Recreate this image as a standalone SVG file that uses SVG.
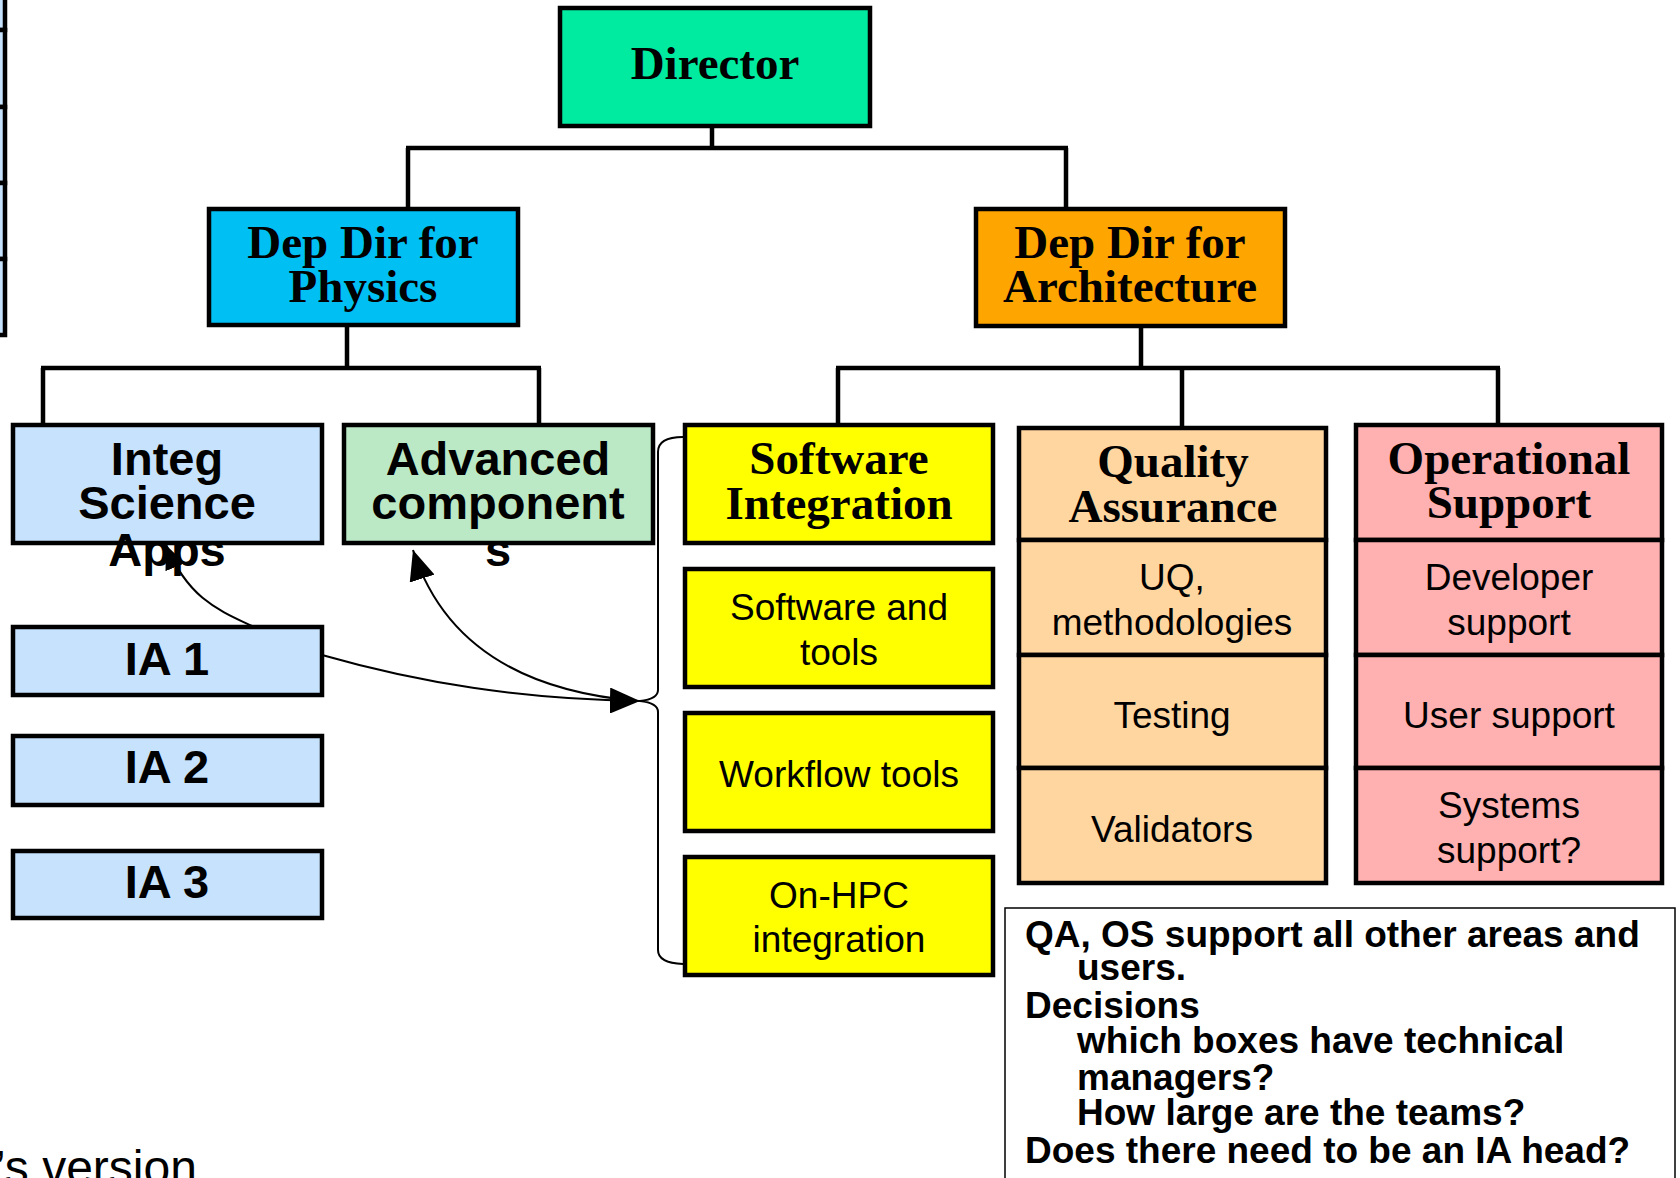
<svg xmlns="http://www.w3.org/2000/svg" width="1680" height="1178" viewBox="0 0 1680 1178">
<style>
.box{stroke:#000;stroke-width:4.5}
.ln{stroke:#000;stroke-width:4.5;fill:none}
.thin{stroke:#000;stroke-width:2;fill:none}
.tb{font-family:"Liberation Serif","Times New Roman",serif;font-weight:bold;font-size:47px;text-anchor:middle;fill:#000}
.sb{font-family:"Liberation Sans",Arial,sans-serif;font-weight:bold;font-size:47px;text-anchor:middle;fill:#000}
.sr{font-family:"Liberation Sans",Arial,sans-serif;font-size:37px;text-anchor:middle;fill:#000}
.note{font-family:"Liberation Sans",Arial,sans-serif;font-weight:bold;font-size:37px;fill:#000}
.lb{fill:#C6E2FC}
.yl{fill:#FFFF00}
.qa{fill:#FFD6A0}
.os{fill:#FFB0B0}
</style>
<defs>
<marker id="arrow" markerUnits="userSpaceOnUse" markerWidth="30" markerHeight="26" refX="30" refY="13" orient="auto">
<path d="M0,0 L30,13 L0,26 z" fill="#000"/>
</marker>
<marker id="arrowS" markerUnits="userSpaceOnUse" markerWidth="24" markerHeight="21" refX="24" refY="10.5" orient="auto">
<path d="M0,0 L24,10.5 L0,21 z" fill="#000"/>
</marker>
</defs>
<rect width="1680" height="1178" fill="#fff"/>

<g id="left-edge">
<rect class="box lb" x="-300" y="-20" width="305" height="50"/>
<rect class="box lb" x="-300" y="30" width="305" height="77"/>
<rect class="box lb" x="-300" y="107" width="305" height="76"/>
<rect class="box lb" x="-300" y="183" width="305" height="76"/>
<rect class="box lb" x="-300" y="259" width="305" height="76"/>
</g>

<g id="director">
<rect class="box" x="560" y="8" width="310" height="118" fill="#00EAA0"/>
<text class="tb" x="715" y="79">Director</text>
</g>
<g id="depdir-physics">
<rect class="box" x="209" y="209" width="309" height="116" fill="#00BFF3"/>
<text class="tb" x="363" y="258">Dep Dir for</text>
<text class="tb" x="363" y="302">Physics</text>
</g>
<g id="depdir-architecture">
<rect class="box" x="976" y="209" width="309" height="117" fill="#FFA500"/>
<text class="tb" x="1130" y="258">Dep Dir for</text>
<text class="tb" x="1130" y="302">Architecture</text>
</g>

<g id="integ-science-apps">
<rect class="box lb" x="13" y="425" width="309" height="118"/>
<text class="sb" x="167" y="475">Integ</text>
<text class="sb" x="167" y="519">Science</text>
<text class="sb" x="167" y="566">Apps</text>
</g>
<g id="advanced-components">
<rect class="box" x="344" y="425" width="309" height="118" fill="#BBE9C6"/>
<text class="sb" x="498" y="475">Advanced</text>
<text class="sb" x="498" y="519">component</text>
<text class="sb" x="498" y="566">s</text>
</g>
<g id="ia1">
<rect class="box lb" x="13" y="627" width="309" height="68"/>
<text class="sb" x="167" y="675" font-size="46">IA 1</text>
</g>
<g id="ia2">
<rect class="box lb" x="13" y="736" width="309" height="69"/>
<text class="sb" x="167" y="783" font-size="46">IA 2</text>
</g>
<g id="ia3">
<rect class="box lb" x="13" y="851" width="309" height="67"/>
<text class="sb" x="167" y="898" font-size="46">IA 3</text>
</g>

<g id="software-integration">
<rect class="box yl" x="685" y="425" width="308" height="118"/>
<text class="tb" x="839" y="474">Software</text>
<text class="tb" x="839" y="519">Integration</text>
</g>
<g id="software-tools">
<rect class="box yl" x="685" y="569" width="308" height="118"/>
<text class="sr" x="839" y="620">Software and</text>
<text class="sr" x="839" y="665">tools</text>
</g>
<g id="workflow-tools">
<rect class="box yl" x="685" y="713" width="308" height="118"/>
<text class="sr" x="839" y="787">Workflow tools</text>
</g>
<g id="on-hpc">
<rect class="box yl" x="685" y="857" width="308" height="118"/>
<text class="sr" x="839" y="908">On-HPC</text>
<text class="sr" x="839" y="952">integration</text>
</g>

<g id="quality-assurance">
<rect class="box qa" x="1019" y="428" width="307" height="112"/>
<text class="tb" x="1173" y="477">Quality</text>
<text class="tb" x="1173" y="522">Assurance</text>
</g>
<g id="uq">
<rect class="box qa" x="1019" y="540" width="307" height="115"/>
<text class="sr" x="1172" y="590">UQ,</text>
<text class="sr" x="1172" y="635">methodologies</text>
</g>
<g id="testing">
<rect class="box qa" x="1019" y="655" width="307" height="113"/>
<text class="sr" x="1172" y="728">Testing</text>
</g>
<g id="validators">
<rect class="box qa" x="1019" y="768" width="307" height="115"/>
<text class="sr" x="1172" y="842">Validators</text>
</g>

<g id="operational-support">
<rect class="box os" x="1356" y="425" width="306" height="115"/>
<text class="tb" x="1509" y="474">Operational</text>
<text class="tb" x="1509" y="518">Support</text>
</g>
<g id="developer-support">
<rect class="box os" x="1356" y="540" width="306" height="115"/>
<text class="sr" x="1509" y="590">Developer</text>
<text class="sr" x="1509" y="635">support</text>
</g>
<g id="user-support">
<rect class="box os" x="1356" y="655" width="306" height="113"/>
<text class="sr" x="1509" y="728">User support</text>
</g>
<g id="systems-support">
<rect class="box os" x="1356" y="768" width="306" height="115"/>
<text class="sr" x="1509" y="818">Systems</text>
<text class="sr" x="1509" y="863">support?</text>
</g>

<g id="notes">
<rect x="1005" y="908" width="670" height="300" fill="#fff" stroke="#000" stroke-width="1.5"/>
<text class="note" x="1025" y="947">QA, OS support all other areas and</text>
<text class="note" x="1077" y="980">users.</text>
<text class="note" x="1025" y="1018">Decisions</text>
<text class="note" x="1077" y="1053">which boxes have technical</text>
<text class="note" x="1077" y="1090">managers?</text>
<text class="note" x="1077" y="1125">How large are the teams?</text>
<text class="note" x="1025" y="1163">Does there need to be an IA head?</text>
</g>

<g id="footer">
<text x="-5" y="1184" font-family="'Liberation Sans',Arial,sans-serif" font-size="48" fill="#000">’s version</text>
</g>

<g id="connectors">
<path class="ln" d="M712,126 V148 M406,148 H1068 M408,148 V209 M1066,148 V209"/>
<path class="ln" d="M347,325 V368 M41,368 H541 M43,368 V427 M539,368 V425"/>
<path class="ln" d="M1141,326 V368 M836,368 H1500 M838,368 V425 M1182,368 V428 M1498,368 V425"/>
<path class="thin" d="M683,437 Q658,437 658,452 L658,690 Q658,699 640,701 Q658,703 658,712 L658,950 Q658,963 683,964"/>
<path class="thin" d="M322,655 C420,683 520,699 640,701" marker-end="url(#arrow)"/>
<path class="thin" d="M638,701 C530,692 445,650 413,550" marker-end="url(#arrow)"/>
<path class="thin" d="M252,626 C218,610 188,598 166,545" marker-end="url(#arrowS)"/>
</g>
</svg>
